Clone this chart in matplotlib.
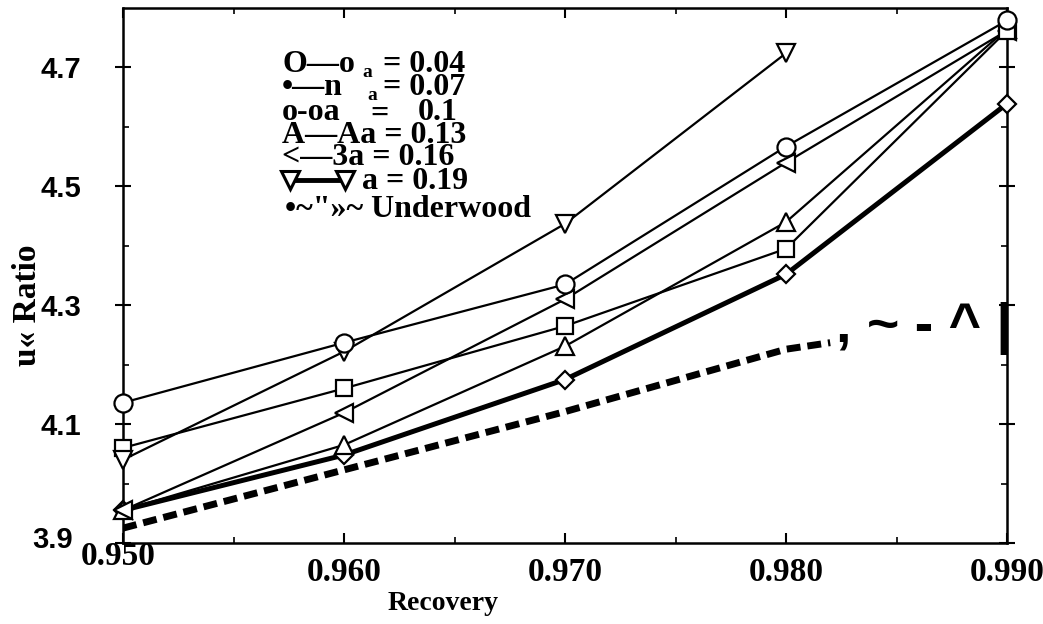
import matplotlib
matplotlib.use("Agg")
import matplotlib.pyplot as plt
from matplotlib.lines import Line2D
from matplotlib.transforms import ScaledTranslation

# ---- data ----
recovery = [0.95, 0.96, 0.97, 0.98, 0.99]
ratio_a004 = [4.136, 4.237, 4.335, 4.567, 4.779]   # circles
ratio_a007 = [4.060, 4.160, 4.265, 4.395, 4.762]   # squares
ratio_a010 = [3.955, 4.048, 4.175, 4.352, 4.639]   # diamonds (thick line)
ratio_a013 = [3.955, 4.065, 4.231, 4.440, 4.765]   # up triangles
ratio_a016 = [3.955, 4.119, 4.310, 4.540, 4.762]   # left triangles
recovery_a019 = [0.95, 0.96, 0.97, 0.98]
ratio_a019 = [4.040, 4.222, 4.437, 4.724]          # down triangles
recovery_uw = [0.95, 0.96, 0.97, 0.98, 0.982]
ratio_uw = [3.925, 4.023, 4.121, 4.226, 4.237]     # Underwood (dashed)

xticks = [0.95, 0.96, 0.97, 0.98, 0.99]
xticklabels = ["0.950", "0.960", "0.970", "0.980", "0.990"]
yticks = [3.9, 4.1, 4.3, 4.5, 4.7]
yticklabels = ["3.9", "4.1", "4.3", "4.5", "4.7"]

legend_lines = ["O\u2014o", "\u2022\u2014n", "o-oa", "A\u2014Aa = 0.13", "<\u20143a = 0.16"]

SERIF = ["Liberation Serif", "DejaVu Serif"]
SANS = ["Liberation Sans", "DejaVu Sans"]

fig = plt.figure(figsize=(10.43, 6.24), dpi=100)
ax = fig.add_axes([123 / 1043, 1 - 543 / 624, (1007 - 123) / 1043, (543 - 8) / 624])

mk = dict(markerfacecolor="white", markeredgecolor="black", markeredgewidth=1.6,
          color="black", clip_on=False)
ax.plot(recovery_uw, ratio_uw, color="black", lw=5, dashes=(2.0, 1.0), zorder=2)
ax.plot(recovery, ratio_a010, marker="D", markersize=9, lw=3.6, zorder=3, **mk)
ax.plot(recovery, ratio_a013, marker="^", markersize=13, lw=1.6, zorder=3, **mk)
ax.plot(recovery, ratio_a016, marker="<", markersize=13, lw=1.6, zorder=3, **mk)
ax.plot(recovery, ratio_a007, marker="s", markersize=12, lw=1.6, zorder=3, **mk)
ax.plot(recovery_a019, ratio_a019, marker="v", markersize=13, lw=1.6, zorder=3, **mk)
ax.plot(recovery, ratio_a004, marker="o", markersize=13, lw=1.6, zorder=4, **mk)

ax.set_xlim(0.95, 0.99)
ax.set_ylim(3.9, 4.8)
for s in ax.spines.values():
    s.set_linewidth(1.8)

ax.set_xticks(xticks)
ax.set_xticklabels(xticklabels)
ax.set_xticks([0.955, 0.965, 0.975, 0.985], minor=True)
ax.set_yticks(yticks)
ax.set_yticklabels(yticklabels)
ax.set_yticks([4.0, 4.2, 4.4, 4.6], minor=True)
ax.tick_params(axis="both", which="major", direction="in", length=7, width=1.5,
               top=True, right=True)
ax.tick_params(axis="both", which="minor", direction="in", length=4, width=1.2,
               top=True, right=True)
ax.tick_params(axis="y", which="major", direction="inout", length=12, pad=24)
ax.tick_params(axis="x", which="major", pad=10)

for lab in ax.get_xticklabels():
    lab.set_fontfamily(SERIF)
    lab.set_fontweight("bold")
    lab.set_fontsize(24)
for lab in ax.get_yticklabels():
    lab.set_fontfamily(SANS)
    lab.set_fontweight("bold")
    lab.set_fontsize(21)

xl = ax.get_xticklabels()
xl[0].set_transform(xl[0].get_transform() + ScaledTranslation(-5 / 100, 16 / 100, fig.dpi_scale_trans))
yl = ax.get_yticklabels()
yl[0].set_transform(yl[0].get_transform() + ScaledTranslation(-8 / 100, 6 / 100, fig.dpi_scale_trans))

fig.text(443 / 1043, 1 - 603 / 624, "Recovery", ha="center", va="center",
         fontsize=20, fontweight="bold", family=SERIF)
fig.text(27 / 1043, 1 - 305 / 624, "u\u00ab Ratio", ha="center", va="center",
         rotation=90, fontsize=24, fontweight="bold", family=SERIF)

# ---- legend (scanned text) ----
def ptxt(x, y, s, size=23, **kw):
    fig.text(x / 1043, 1 - y / 624, s, fontsize=size, fontweight="bold",
             family=SERIF, va="baseline", ha="left", **kw)

ptxt(282, 72, legend_lines[0])
ptxt(362, 77, "a", size=14)
ptxt(383, 72, "= 0.04")
ptxt(282, 95, legend_lines[1])
ptxt(367, 100, "a", size=14)
ptxt(383, 95, "= 0.07")
ptxt(282, 120, legend_lines[2])
ptxt(370, 122, "=")
ptxt(418, 120, "0.1")
ptxt(282, 143, legend_lines[3])
ptxt(282, 165, legend_lines[4])
fig.add_artist(Line2D([290 / 1043, 345 / 1043], [1 - 180 / 624, 1 - 180 / 624],
                      color="black", lw=3.5, marker="v", markersize=13,
                      markerfacecolor="white", markeredgecolor="black",
                      markeredgewidth=2.2))
ptxt(362, 189, "a = 0.19")
ptxt(285, 217, "\u2022~\"\u00bb~ Underwood")

# ---- scan artefact text on the right ----
fig.text(836 / 1043, 1 - 342 / 624, ", ~ - ^ |", fontsize=40, fontweight="bold",
         family=SANS, va="baseline", ha="left")

fig.savefig("out.png", dpi=100)
